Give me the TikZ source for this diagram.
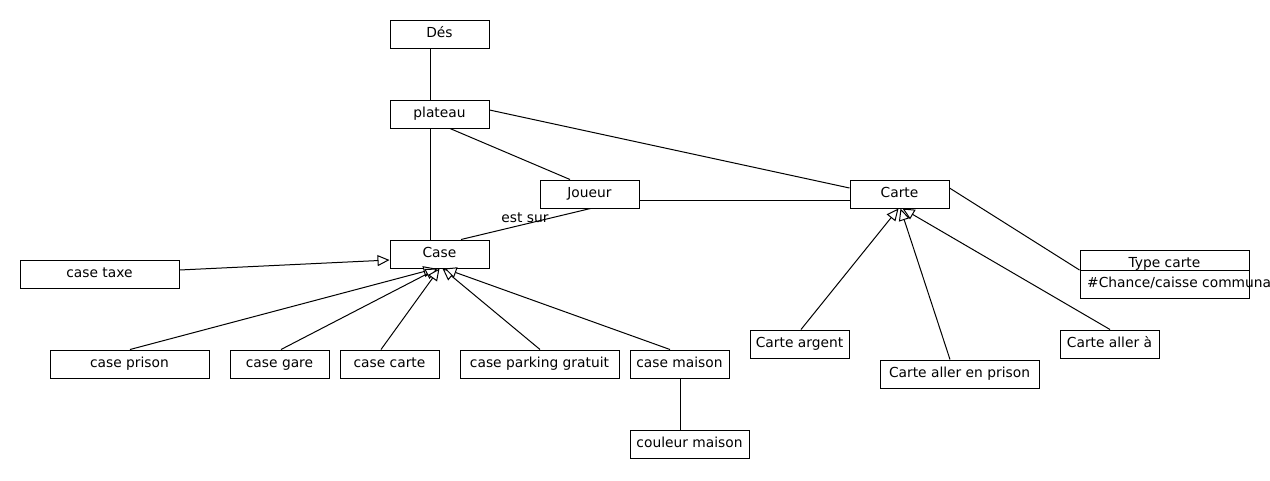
\documentclass[tikz,border=0pt]{standalone}
\usepackage{fontspec}
\setmainfont{DejaVu Sans}
\usetikzlibrary{arrows.meta}
\begin{document}
\begin{tikzpicture}[x=1pt,y=-1pt,
  txt/.style={font=\fontsize{13.8}{16}\selectfont, inner sep=0pt},
  cls/.style={draw, line width=1pt, minimum height=28pt, inner sep=0pt,
    text height=10pt, text depth=3pt, font=\fontsize{13.8}{16}\selectfont},
  wa/.style={cls, minimum width=99pt},
  wb/.style={cls, minimum width=159pt},
  wc/.style={cls, minimum width=119pt},
  assoc/.style={line width=1pt},
  gen/.style={line width=1pt, -{Triangle[length=12pt,width=11pt,fill=white]}}]
\useasboundingbox (0,0) rectangle (1270,480);
\fill[white] (0,0) rectangle (1270,480);
% classes
\node[wa] (des) at (439.5,34) {Dés};
\node[wa] (plateau) at (439.5,114) {plateau};
\node[wa] (joueur) at (589.5,194) {Joueur};
\node[wa] (carte) at (899.5,194) {Carte};
\node[wa] (case) at (439.5,254) {Case};
\node[wb] (taxe) at (99.5,274) {case taxe};
\node[wb] (prison) at (129.5,364) {case prison};
\node[wa] (gare) at (279.5,364) {case gare};
\node[wa] (ccarte) at (389.5,364) {case carte};
\node[wb] (parking) at (539.5,364) {case parking gratuit};
\node[wa] (maison) at (679.5,364) {case maison};
\node[wc] (couleur) at (689.5,444) {couleur maison};
\node[wa] (argent) at (799.5,344) {Carte argent};
\node[wb] (allerprison) at (959.5,374) {Carte aller en prison};
\node[wa] (allera) at (1109.5,344) {Carte aller à};
% Type carte (two compartments)
\node[draw, line width=1pt, minimum width=169pt, minimum height=48pt, inner sep=0pt] (typecarte) at (1164.5,274) {};
\draw[line width=1pt] ([yshift=4pt]typecarte.west) -- ([yshift=4pt]typecarte.east);
\node[txt, anchor=base] (typename) at (1164.5,267) {Type carte};
\node[txt, anchor=base west] (typeattr) at (1087,287) {\#Chance/caisse communa};
% associations
\draw[assoc] ([xshift=-9.5pt]des.south) -- ([xshift=-9.5pt]plateau.north);
\draw[assoc] ([xshift=-9.5pt]plateau.south) -- ([xshift=-9.5pt]case.north);
\draw[assoc] ([xshift=10.5pt]plateau.south) -- ([xshift=-19.5pt]joueur.north);
\draw[assoc] ([yshift=4pt]plateau.east) -- ([yshift=6pt]carte.west);
\draw[assoc] ([yshift=-6pt]joueur.east) -- ([yshift=-6pt]carte.west);
\draw[assoc] ([xshift=1pt]joueur.south) -- ([xshift=21.5pt]case.north);
\node[txt, anchor=base] (estsur) at (525,222) {est sur};
\draw[assoc] ([yshift=6pt]carte.east) -- ([yshift=4pt]typecarte.west);
\draw[assoc] ([xshift=0.5pt]maison.south) -- ([xshift=-9.5pt]couleur.north);
% generalisations
\draw[gen] ([yshift=4pt]taxe.east) -- ([yshift=-6pt]case.west);
\draw[gen] ([xshift=0.5pt]prison.north) -- ([xshift=-4pt]case.south);
\draw[gen] ([xshift=1.5pt]gare.north) -- ([xshift=-2pt]case.south);
\draw[gen] ([xshift=-8.5pt]ccarte.north) -- ([xshift=0pt]case.south);
\draw[gen] ([xshift=0.5pt]parking.north) -- ([xshift=3pt]case.south);
\draw[gen] ([xshift=-9.5pt]maison.north) -- ([xshift=5pt]case.south);
\draw[gen] ([xshift=1.5pt]argent.north) -- ([xshift=-1pt]carte.south);
\draw[gen] ([xshift=-9.5pt]allerprison.north) -- ([xshift=1pt]carte.south);
\draw[gen] ([xshift=0.5pt]allera.north) -- ([xshift=3pt]carte.south);
\end{tikzpicture}
\end{document}
